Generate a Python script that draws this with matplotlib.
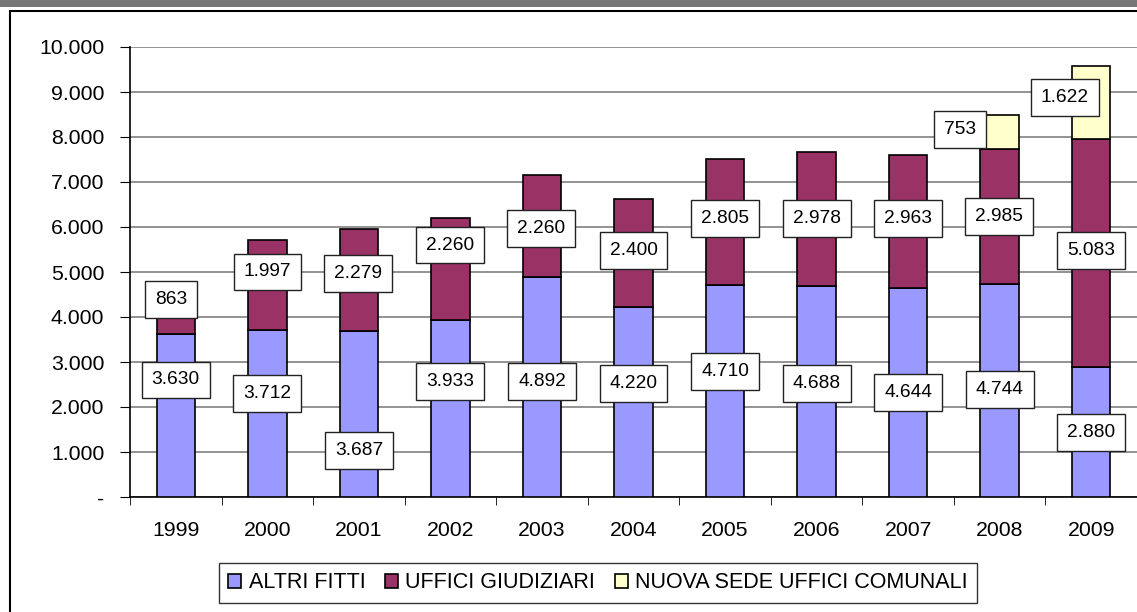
import matplotlib
matplotlib.use("Agg")
from matplotlib import pyplot as plt
from matplotlib.patches import Rectangle
from matplotlib.ticker import FuncFormatter, FixedLocator

plt.rcParams['font.family'] = ['Liberation Sans', 'DejaVu Sans']

anni = ["1999", "2000", "2001", "2002", "2003", "2004", "2005", "2006", "2007", "2008", "2009"]
altri_fitti = [3630, 3712, 3687, 3933, 4892, 4220, 4710, 4688, 4644, 4744, 2880]
uffici_giudiziari = [863, 1997, 2279, 2260, 2260, 2400, 2805, 2978, 2963, 2985, 5083]
nuova_sede = [0, 0, 0, 0, 0, 0, 0, 0, 0, 753, 1622]

# posizioni delle etichette (x relativo alla categoria, y in unità dati)
pos_altri = [(0, 2600), (0, 2290), (0, 1040), (0, 2560), (0, 2560), (0, 2530),
             (0, 2780), (0, 2530), (0, 2330), (0, 2380), (0, 1440)]
pos_uffici = [(-0.05, 4380), (0, 5000), (-0.01, 4960), (0, 5600), (-0.01, 5960), (0, 5470),
              (0, 6180), (0, 6180), (0, 6180), (-0.01, 6240), (0, 5470)]
pos_nuova = {9: (-0.43, 8160), 10: (-0.29, 8870)}

colori = ["#9999FF", "#993366", "#FFFFCC"]
nomi = ["ALTRI FITTI", "UFFICI GIUDIZIARI", "NUOVA SEDE UFFICI COMUNALI"]
fs_assi = 15.3
fs_etich = 13.8


def fmt(v, pos=None):
    if v == 0:
        return "-"
    return "{:,.0f}".format(v).replace(",", ".")


fig = plt.figure(figsize=(11.37, 6.12), dpi=100)
fig.patches.append(Rectangle((0, 1 - 7 / 612), 1, 7 / 612, transform=fig.transFigure,
                             facecolor="#777777", edgecolor="none"))
fig.patches.append(Rectangle((10 / 1137, -0.01), 1.0, 1 - 11 / 612 + 0.01,
                             transform=fig.transFigure, facecolor="none",
                             edgecolor="black", linewidth=1.5))

ax = fig.add_axes([130 / 1137, 1 - 497 / 612, 1 - 130 / 1137, 450 / 612])
x = list(range(len(anni)))
w = 0.42
base2 = [a + b for a, b in zip(altri_fitti, uffici_giudiziari)]
b1 = ax.bar(x, altri_fitti, w, color=colori[0], edgecolor="black", linewidth=1.2, zorder=3, label=nomi[0])
b2 = ax.bar(x, uffici_giudiziari, w, bottom=altri_fitti, color=colori[1], edgecolor="black",
            linewidth=1.2, zorder=3, label=nomi[1])
idx3 = [i for i in x if nuova_sede[i] > 0]
b3 = ax.bar(idx3, [nuova_sede[i] for i in idx3], w, bottom=[base2[i] for i in idx3],
            color=colori[2], edgecolor="black", linewidth=1.2, zorder=3, label=nomi[2])

box = dict(boxstyle="square,pad=0.52", facecolor="white", edgecolor="#222222", linewidth=1)
for i in x:
    ax.text(i + pos_altri[i][0], pos_altri[i][1], fmt(altri_fitti[i]), ha="center", va="center",
            fontsize=fs_etich, bbox=box, zorder=5)
    ax.text(i + pos_uffici[i][0], pos_uffici[i][1], fmt(uffici_giudiziari[i]), ha="center",
            va="center", fontsize=fs_etich, bbox=box, zorder=5)
for i, (dx, y) in pos_nuova.items():
    ax.text(i + dx, y, fmt(nuova_sede[i]), ha="center", va="center", fontsize=fs_etich,
            bbox=box, zorder=5)

ax.set_xlim(-0.5, len(anni) - 0.5)
ax.set_ylim(0, 10000)
ax.set_yticks(range(0, 10001, 1000))
ax.yaxis.set_major_formatter(FuncFormatter(fmt))
ax.set_xticks(x)
ax.set_xticklabels(anni)
ax.xaxis.set_minor_locator(FixedLocator([i - 0.5 for i in range(len(anni) + 1)]))
ax.tick_params(axis="x", which="major", length=0, pad=17, labelsize=fs_assi)
ax.tick_params(axis="x", which="minor", length=5.8, direction="out", color="black")
ax.tick_params(axis="y", length=7, direction="out", labelsize=fs_assi, pad=11.5)
ax.grid(axis="y", color="#808080", linewidth=1.2, zorder=0)
for s in ["top", "right"]:
    ax.spines[s].set_visible(False)
ax.spines["left"].set_linewidth(1.2)
ax.spines["bottom"].set_linewidth(1.2)

leg = fig.legend(handles=[b1, b2, b3], labels=nomi, loc="center", bbox_to_anchor=(598 / 1137, 1 - 583 / 612),
                 ncol=3, fontsize=15.5, frameon=True, fancybox=False, edgecolor="black",
                 handlelength=0.6, handleheight=0.6, handletextpad=0.35, columnspacing=0.9,
                 borderpad=0.45, borderaxespad=0)
leg.get_frame().set_linewidth(1)

fig.savefig("out.png", dpi=100)
